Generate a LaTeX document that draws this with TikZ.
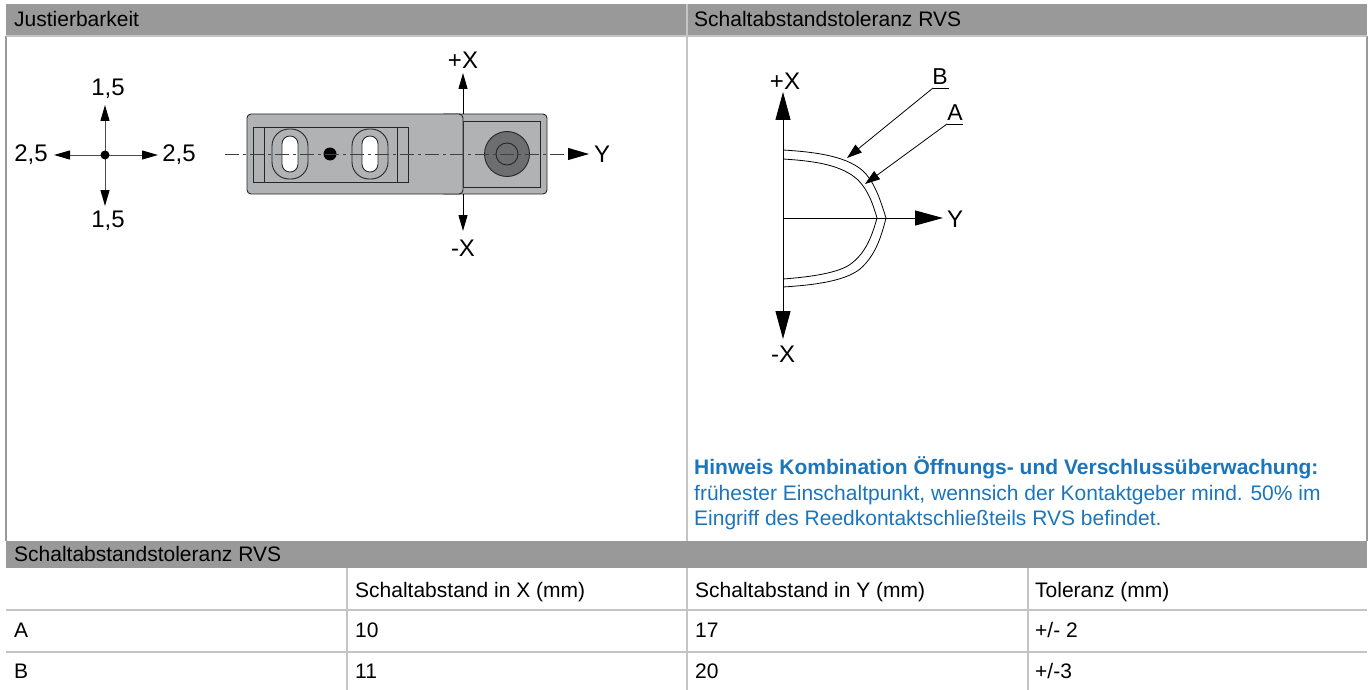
\documentclass[tikz,border=0pt]{standalone}
\usepackage{fontspec}
\setmainfont{Liberation Sans}
\usetikzlibrary{arrows.meta,positioning}
\definecolor{headgray}{HTML}{999999}
\definecolor{rulegray}{HTML}{C4C4C4}
\definecolor{bodygray}{HTML}{B1B2B4}
\definecolor{hubgray}{HTML}{6D6E70}
\definecolor{notecol}{HTML}{1B75BB}
\tikzset{
  headbar/.style={fill=headgray,draw=none},
  txt/.style={inner sep=0pt,anchor=base west,font=\fontsize{21}{24}\selectfont},
  dim/.style={inner sep=0pt,font=\fontsize{24}{26}\selectfont},
  grid/.style={draw=rulegray,line width=1.4pt},
  edge/.style={draw=headgray,line width=1.4pt},
  part/.style={draw=black!85,line width=0.9pt},
  dimline/.style={draw=black!70,line width=1pt},
  ax/.style={draw=black,line width=1pt},
  smalltip/.style={-{Triangle[length=16pt,width=9pt,black]}},
  midtip/.style={-{Triangle[length=21pt,width=12pt,black]}},
  bigtip/.style={-{Triangle[length=28pt,width=15pt]}},
  leadtip/.style={-{Triangle[length=15pt,width=10pt]}},
  tol/.style={draw=black,line width=0.8pt},
}
\begin{document}
\begin{tikzpicture}[x=1pt,y=-1pt]
\useasboundingbox (0,0) rectangle (1370,690);
% bars
\fill[headbar] (6,4) rectangle (1367,36);
\fill[headbar] (6,541) rectangle (1367,568);
% table rules
\draw[edge] (6,36) -- (6,541);
\draw[grid] (687,4) -- (687,541);
\draw[edge] (1367,36) -- (1367,541);
\draw[grid] (6,36) -- (1367,36);
\draw[grid] (6,610) -- (1367,610);
\draw[grid] (6,652) -- (1367,652);
\draw[grid] (347,568) -- (347,690);
\draw[grid] (687,568) -- (687,690);
\draw[grid] (1028,568) -- (1028,690);
% texts
\node[txt] (hLeft) at (14,27) {Justierbarkeit};
\node[txt] (hRight) at (694,27) {Schaltabstandstoleranz RVS};
\node[txt] (hTable) at (14,561) {Schaltabstandstoleranz RVS};
\node[txt] (cX) at (355,597) {Schaltabstand in X (mm)};
\node[txt] (cY) at (695,597) {Schaltabstand in Y (mm)};
\node[txt] (cT) at (1035,597) {Toleranz (mm)};
\node[txt] (rowA) at (14,637) {A};
\node[txt] (aX) at (355,637) {10};
\node[txt] (aY) at (695,637) {17};
\node[txt] (aT) at (1035,637) {+/- 2};
\node[txt] (rowB) at (14,678) {B};
\node[txt] (bX) at (355,678) {11};
\node[txt] (bY) at (695,678) {20};
\node[txt] (bT) at (1035,678) {+/-3};
\node[txt,text=notecol] (noteA) at (694,474) {\textbf{Hinweis Kombination Öffnungs- und Verschlussüberwachung:}};
\node[txt,text=notecol] (noteB) at (694,500) {frühester Einschaltpunkt, wennsich der Kontaktgeber mind. 50\% im};
\node[txt,text=notecol] (noteC) at (694,525) {Eingriff des Reedkontaktschließteils RVS befindet.};
% cross
\coordinate (crossC) at (105,155);
\node[dim] (crossN) at (108,89) {1,5};
\node[dim] (crossS) at (108,221) {1,5};
\node[dim] (crossW) at (31,155) {2,5};
\node[dim] (crossE) at (179,155) {2,5};
\draw[dimline,smalltip] (crossC) -- (105,105);
\draw[dimline,smalltip] (crossC) -- (105,206);
\draw[dimline,smalltip] (crossC) -- (54,155);
\draw[dimline,smalltip] (crossC) -- (158,155);
\fill[black] (crossC) circle (4.5pt);
% sensor body
\draw[part,fill=bodygray,rounded corners=4pt] (440,114) rectangle (547,194);
\draw[part] (463,121) rectangle (540,187);
\draw[part,fill=hubgray] (507,154) circle (22.5pt);
\draw[part] (507,154) circle (11pt);
\draw[part,fill=bodygray,rounded corners=4pt] (247,114) rectangle (463,194);
\draw[part] (253,127) rectangle (408,182);
\draw[part] (264,127) -- (264,182);
\draw[part] (397,127) -- (397,182);
\foreach \sx in {290,370}{
  \draw[part,rounded corners=17pt] (\sx-18,129) rectangle (\sx+18,179);
  \draw[part,fill=white,rounded corners=7.9pt] (\sx-8,136) rectangle (\sx+8,172);
}
\fill[black] (330,154) circle (6.5pt);
\coordinate (axisW) at (225,154);
\coordinate (axisE) at (589,154);
\draw[draw=black!75,line width=1pt,dash pattern=on 14pt off 4pt on 3pt off 4pt] (axisW) -- (570,154);
\draw[ax,midtip] (570,154) -- (axisE);
\coordinate (sensorC) at (463,114);
\coordinate (sensorD) at (463,194);
\draw[ax,smalltip] (sensorC) -- (463,73);
\draw[ax,smalltip] (sensorD) -- (463,231);
\node[dim] (plusX) at (463,60) {+X};
\node[dim] (minusX) at (463,248) {-X};
\node[dim,anchor=west] (axisY) at (594,154) {Y};
% tolerance sketch
\coordinate (tolC) at (783,218);
\node[dim] (tolPlus) at (785,81) {+X};
\node[dim] (tolMinus) at (783,354) {-X};
\node[dim,anchor=west] (tolY) at (947,219) {Y};
\draw[ax,bigtip] (tolC) -- (783,92);
\draw[ax,bigtip] (tolC) -- (783,339);
\draw[ax,bigtip] (tolC) -- (943,218);
\draw[tol] (783,150) .. controls (815,152) and (850,156) .. (866,174) .. controls (876,186) and (881,202) .. (886,218) .. controls (881,238) and (875,256) .. (860,269) .. controls (845,281) and (815,285) .. (783,287);
\draw[tol] (783,159) .. controls (815,161) and (842,165) .. (858,180) .. controls (868,190) and (873,204) .. (877,218) .. controls (872,236) and (866,252) .. (852,263) .. controls (840,273) and (810,277) .. (783,279);
\node[dim,font=\fontsize{23}{24}\selectfont] (labB) at (940,77) {B};
\node[dim,font=\fontsize{23}{24}\selectfont] (labA) at (955,113) {A};
\coordinate (leadB) at (933,88);
\coordinate (leadA) at (947,124);
\draw[tol] (leadB) -- (949,88);
\draw[tol] (leadA) -- (963,124);
\draw[tol,leadtip] (leadB) -- (847,158);
\draw[tol,leadtip] (leadA) -- (865,184);
\end{tikzpicture}
\end{document}
